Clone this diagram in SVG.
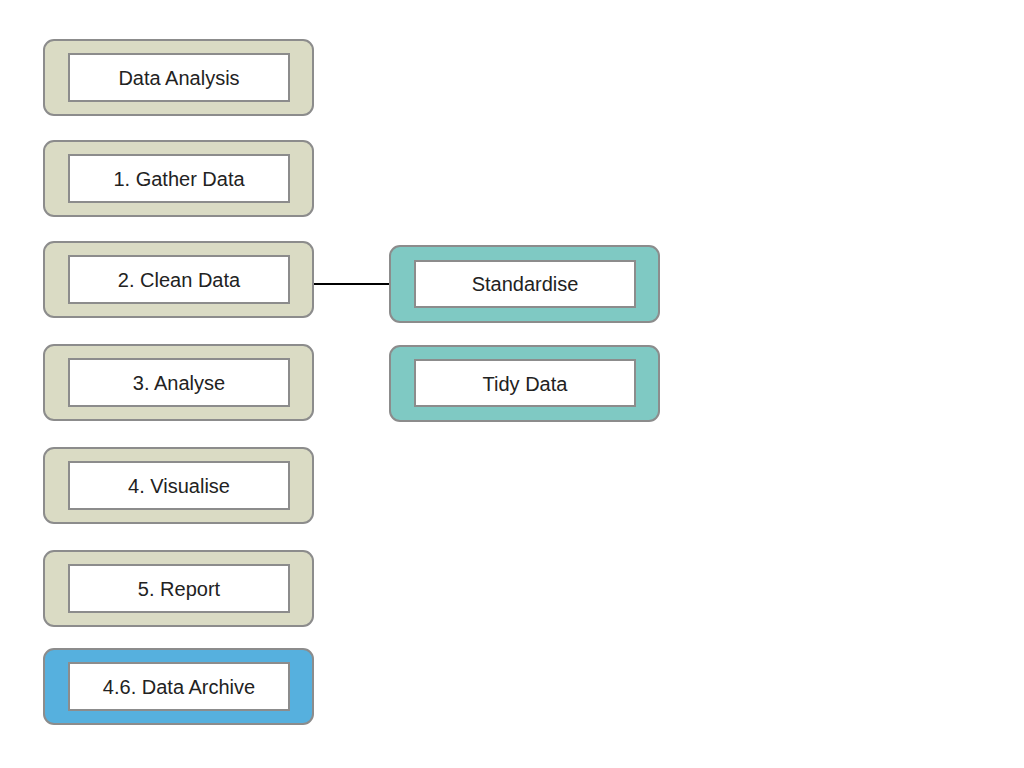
<svg xmlns="http://www.w3.org/2000/svg" width="1024" height="768" viewBox="0 0 1024 768">
<style>
.o{stroke:#8c8c8c;stroke-width:2}
.g{fill:#dadbc4}
.t{fill:#7fc9c3}
.b{fill:#56b0de}
.i{fill:#fff;stroke:#8c8c8c;stroke-width:2}
text{font-family:"Liberation Sans",Arial,sans-serif;font-size:20px;fill:#222;text-anchor:middle;dominant-baseline:central}
</style>
<rect width="1024" height="768" fill="#fff"/>
<g id="connectors">
<line x1="313" y1="284" x2="390" y2="284" stroke="#000" stroke-width="2"/>
</g>
<g id="n0"><rect class="o g" x="44" y="40" width="269" height="75" rx="10"/><rect class="i" x="69" y="54" width="220" height="47"/><text x="179" y="78">Data Analysis</text></g>
<g id="n1"><rect class="o g" x="44" y="141" width="269" height="75" rx="10"/><rect class="i" x="69" y="155" width="220" height="47"/><text x="179" y="179">1. Gather Data</text></g>
<g id="n2"><rect class="o g" x="44" y="242" width="269" height="75" rx="10"/><rect class="i" x="69" y="256" width="220" height="47"/><text x="179" y="280">2. Clean Data</text></g>
<g id="n3"><rect class="o g" x="44" y="345" width="269" height="75" rx="10"/><rect class="i" x="69" y="359" width="220" height="47"/><text x="179" y="383">3. Analyse</text></g>
<g id="n4"><rect class="o g" x="44" y="448" width="269" height="75" rx="10"/><rect class="i" x="69" y="462" width="220" height="47"/><text x="179" y="486">4. Visualise</text></g>
<g id="n5"><rect class="o g" x="44" y="551" width="269" height="75" rx="10"/><rect class="i" x="69" y="565" width="220" height="47"/><text x="179" y="589">5. Report</text></g>
<g id="n6"><rect class="o b" x="44" y="649" width="269" height="75" rx="10"/><rect class="i" x="69" y="663" width="220" height="47"/><text x="179" y="687">4.6. Data Archive</text></g>
<g id="s1"><rect class="o t" x="390" y="246" width="269" height="76" rx="10"/><rect class="i" x="415" y="261" width="220" height="46"/><text x="525" y="284">Standardise</text></g>
<g id="s2"><rect class="o t" x="390" y="346" width="269" height="75" rx="10"/><rect class="i" x="415" y="360" width="220" height="46"/><text x="525" y="384">Tidy Data</text></g>
</svg>
